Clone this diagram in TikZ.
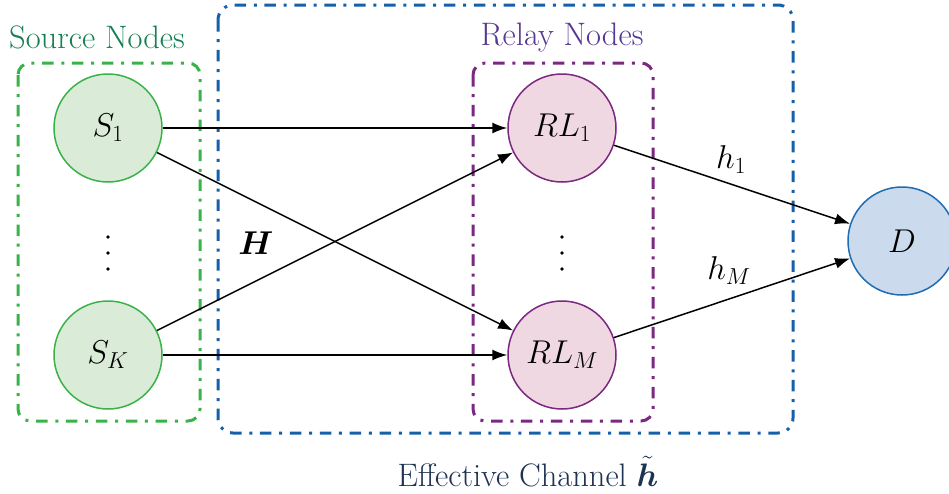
\RequirePackage{fix-cm}
\documentclass[tikz,border=0pt]{standalone}
\usepackage{amsmath,amssymb}
\usetikzlibrary{arrows.meta}

\definecolor{srcfill}{RGB}{218,236,216}
\definecolor{srcline}{RGB}{58,178,74}
\definecolor{srctext}{RGB}{22,128,84}
\definecolor{relfill}{RGB}{240,216,226}
\definecolor{relline}{RGB}{122,40,128}
\definecolor{reltext}{RGB}{86,56,146}
\definecolor{dstfill}{RGB}{204,218,238}
\definecolor{dstline}{RGB}{30,108,178}
\definecolor{chanline}{RGB}{22,96,170}
\definecolor{chantext}{RGB}{30,50,82}

\tikzset{
  netnode/.style={circle, minimum size=108pt, inner sep=0pt, line width=1.5pt,
    font=\fontsize{33}{40}\selectfont},
  srcnode/.style={netnode, draw=srcline, fill=srcfill},
  relnode/.style={netnode, draw=relline, fill=relfill},
  dstnode/.style={netnode, draw=dstline, fill=dstfill},
  groupbox/.style={line width=3pt,
    dash pattern=on 11.5pt off 7.7pt on 3pt off 7.7pt},
  link/.style={line width=1.5pt, -{Latex[length=15pt,width=11pt]}},
  grouplabel/.style={anchor=base, inner sep=0pt, font=\fontsize{32.5}{38}\selectfont},
  linklabel/.style={inner sep=0pt, font=\fontsize{33}{40}\selectfont},
}

\begin{document}
\begin{tikzpicture}[x=1pt, y=-1pt]
\useasboundingbox (0,0) rectangle (949,493);

% group frames
\draw[groupbox, draw=chanline, rounded corners=15pt] (218,5) rectangle (793,433);
\draw[groupbox, draw=srcline, rounded corners=12pt] (18,63) rectangle (200,421);
\draw[groupbox, draw=relline, rounded corners=12pt] (473,63) rectangle (653,421);

% group titles
\node[grouplabel, text=srctext] (srctitle) at (97,48) {Source Nodes};
\node[grouplabel, text=reltext] (reltitle) at (562,45) {Relay Nodes};
\node[grouplabel, text=chantext] (chantitle) at (528,486)
  {Effective Channel $\tilde{\boldsymbol{h}}$};

% nodes
\node[srcnode] (S1) at (108,128) {$S_1$};
\node[srcnode] (SK) at (108,355) {$S_K$};
\node[relnode] (R1) at (562,128) {$RL_1$};
\node[relnode] (RM) at (562,355) {$RL_M$};
\node[dstnode] (D) at (902,241) {$D$};

% vertical ellipses
\foreach \x in {108,562}
  \foreach \y in {237,253,269}
    \fill (\x,\y) circle (1.9pt);

% links
\draw[link] (S1) -- (R1);
\draw[link] (S1) -- (RM);
\draw[link] (SK) -- (R1);
\draw[link] (SK) -- (RM);
\draw[link] (R1) -- node[linklabel, xshift=-1pt, yshift=25pt] (h1) {$h_1$} (D);
\draw[link] (RM) -- node[linklabel, xshift=-3pt, yshift=27pt] (hM) {$h_M$} (D);

\node[linklabel] (Hmat) at (256,243) {$\boldsymbol{H}$};
\end{tikzpicture}
\end{document}
